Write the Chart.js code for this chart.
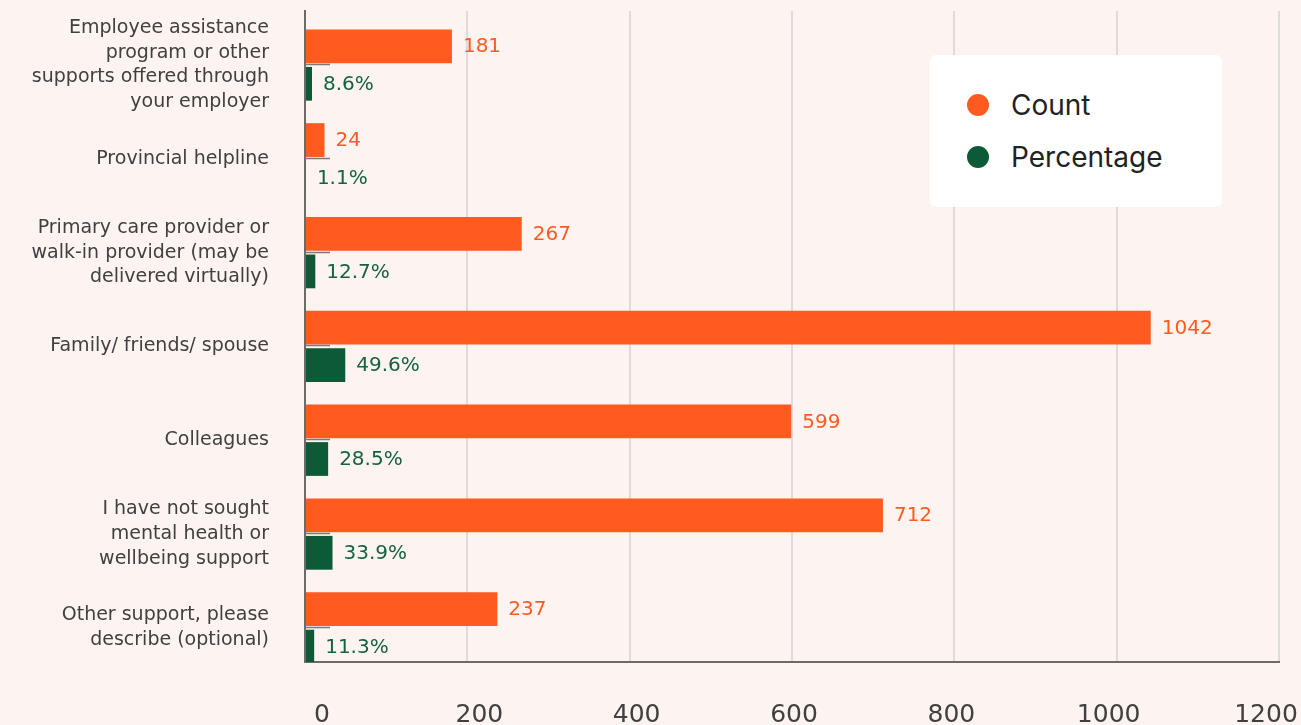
<!DOCTYPE html>
<html>
<head>
<meta charset="utf-8">
<title>Mental health support sought</title>
<script src="https://cdn.jsdelivr.net/npm/chart.js@4.4.1/dist/chart.umd.min.js"></script>
<style>
  html, body { margin: 0; padding: 0; background: #fdf4f2; }
  #wrap { position: relative; width: 1301px; height: 725px; }
  #legend {
    position: absolute; left: 930px; top: 55px; width: 292px; height: 152px;
    background: #ffffff; border-radius: 6px; box-sizing: border-box;
    padding-top: 34px; padding-left: 36px;
    font-family: Inter, "Noto Sans", sans-serif; font-size: 28px; color: #222;
  }
  #legend .item { display: flex; align-items: center; height: 52px; margin-top: -10px; }
  #legend .item + .item { margin-top: 0; }
  #legend .dot { width: 22px; height: 22px; border-radius: 50%; margin-right: 22px; margin-left: 1px; }
</style>
</head>
<body>
<div id="wrap">
  <canvas id="supportChart"></canvas>
  <div id="legend"></div>
</div>
<script>
var categories = [
  ["Employee assistance", "program or other", "supports offered through", "your employer"],
  "Provincial helpline",
  ["Primary care provider or", "walk-in provider (may be", "delivered virtually)"],
  "Family/ friends/ spouse",
  "Colleagues",
  ["I have not sought", "mental health or", "wellbeing support"],
  ["Other support, please", "describe (optional)"]
];
var countValues = [181, 24, 267, 1042, 599, 712, 237];
var percentValues = [8.6, 1.1, 12.7, 49.6, 28.5, 33.9, 11.3];
var xTickValues = [0, 200, 400, 600, 800, 1000, 1200];

var orange = '#ff5a1f';
var green = '#0d5a37';
var labelFont = '"DejaVu Sans", sans-serif';

// value text at the end of every bar
var valueLabels = {
  id: 'valueLabels',
  afterDatasetsDraw: function (chart) {
    var ctx = chart.ctx;
    ctx.save();
    ctx.font = '20px ' + labelFont;
    ctx.textBaseline = 'middle';
    ctx.textAlign = 'left';
    chart.data.datasets.forEach(function (ds, i) {
      var meta = chart.getDatasetMeta(i);
      ctx.fillStyle = ds.labelColor;
      meta.data.forEach(function (bar, j) {
        var v = ds.data[j];
        var txt = ds.isPercent ? v.toFixed(1) + '%' : String(v);
        ctx.fillText(txt, bar.x + 11, bar.y + 1);
      });
    });
    ctx.restore();
  }
};

// short grey marks on the category centres
var categoryMarks = {
  id: 'categoryMarks',
  afterDatasetsDraw: function (chart) {
    var ctx = chart.ctx;
    var y = chart.scales.y;
    var left = chart.chartArea.left;
    ctx.save();
    ctx.strokeStyle = '#7a7a7a';
    ctx.lineWidth = 1.5;
    categories.forEach(function (c, i) {
      var py = Math.round(y.getPixelForValue(i) - 1) + 0.5;
      ctx.beginPath();
      ctx.moveTo(left, py);
      ctx.lineTo(left + 25, py);
      ctx.stroke();
    });
    ctx.restore();
  }
};

function plainTick(value) {
  return String(value);
}

var ctx = document.getElementById('supportChart');
var supportChart = new Chart(ctx, {
  type: 'bar',
  data: {
    labels: categories,
    datasets: [
      {
        label: 'Count',
        data: countValues,
        backgroundColor: orange,
        labelColor: orange,
        categoryPercentage: 0.8,
        barPercentage: 0.9
      },
      {
        label: 'Percentage',
        data: percentValues,
        backgroundColor: green,
        labelColor: '#16613f',
        isPercent: true,
        categoryPercentage: 0.8,
        barPercentage: 0.9
      }
    ]
  },
  options: {
    indexAxis: 'y',
    responsive: true,
    maintainAspectRatio: false,
    animation: false,
    layout: { padding: { top: 11, right: 22, bottom: 0, left: 0 } },
    plugins: {
      legend: { display: false },
      tooltip: { enabled: false }
    },
    scales: {
      x: {
        type: 'linear',
        position: 'bottom',
        weight: 0,
        min: 0,
        max: 1200,
        afterBuildTicks: function (scale) {
          scale.ticks = xTickValues.map(function (v) { return { value: v }; });
        },
        afterFit: function (scale) {
          scale.height = 0;
          scale.paddingLeft = 0;
          scale.paddingRight = 0;
        },
        grid: { color: '#dedbda', lineWidth: 2, drawTicks: false },
        border: { color: '#6b6b6b', width: 2 },
        ticks: { display: false }
      },
      // tick labels sit on their own axis, spaced a little tighter than the grid
      xLabels: {
        type: 'linear',
        position: 'bottom',
        weight: 1,
        min: -21.6,
        max: 1216.5,
        afterBuildTicks: function (scale) {
          scale.ticks = xTickValues.map(function (v) { return { value: v }; });
        },
        afterFit: function (scale) {
          scale.height = 63;
          scale.paddingLeft = 0;
          scale.paddingRight = 0;
        },
        grid: { display: false, drawTicks: false },
        border: { display: false },
        ticks: {
          padding: 38,
          color: '#404040',
          callback: plainTick,
          font: { family: labelFont, size: 25 }
        }
      },
      y: {
        type: 'category',
        afterFit: function (scale) {
          scale.width = 305;
          scale.paddingTop = 0;
          scale.paddingBottom = 0;
        },
        // stretch the bands a bit so the last one ends on the axis
        afterBuildTicks: function (scale) {
          scale._startValue = -0.576;
          scale._valueRange = 6.94;
        },
        grid: { drawOnChartArea: false, drawTicks: false },
        border: { color: '#6b6b6b', width: 2 },
        ticks: {
          autoSkip: false,
          padding: 36,
          color: '#404040',
          font: { family: labelFont, size: 19, lineHeight: 1.31 }
        }
      }
    }
  },
  plugins: [valueLabels, categoryMarks]
});

function buildLegend(chart) {
  var box = document.getElementById('legend');
  chart.data.datasets.forEach(function (ds) {
    var item = document.createElement('div');
    item.className = 'item';
    var dot = document.createElement('span');
    dot.className = 'dot';
    dot.style.background = ds.backgroundColor;
    var txt = document.createElement('span');
    txt.textContent = ds.label;
    item.appendChild(dot);
    item.appendChild(txt);
    box.appendChild(item);
  });
}
buildLegend(supportChart);
</script>
</body>
</html>
